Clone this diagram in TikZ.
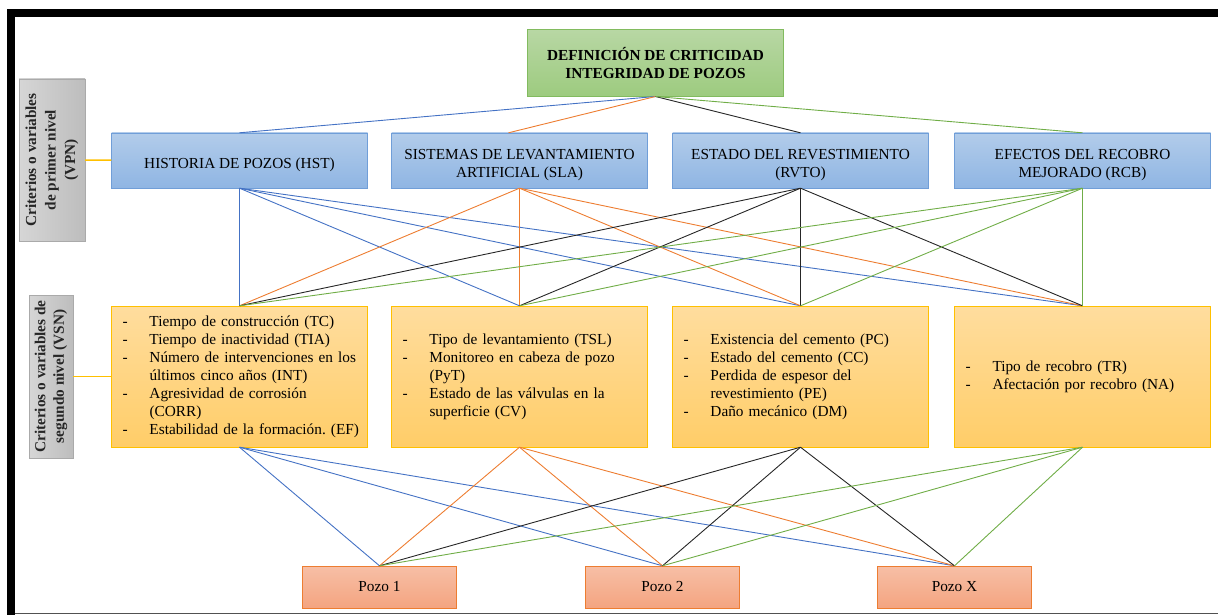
\documentclass[tikz,border=0pt]{standalone}
\usepackage{fontspec}
\setmainfont{Liberation Serif}
\definecolor{lazul}{RGB}{68,114,196}
\definecolor{lnar}{RGB}{237,125,49}
\definecolor{lneg}{RGB}{38,38,38}
\definecolor{lver}{RGB}{112,173,71}
\definecolor{azul1}{RGB}{178,204,234}
\definecolor{azul2}{RGB}{143,181,227}
\definecolor{azulb}{RGB}{112,158,216}
\definecolor{ver1}{RGB}{184,215,164}
\definecolor{ver2}{RGB}{157,203,127}
\definecolor{verb}{RGB}{130,187,95}
\definecolor{ama1}{RGB}{255,221,158}
\definecolor{ama2}{RGB}{255,205,104}
\definecolor{amab}{RGB}{255,192,0}
\definecolor{sal1}{RGB}{247,191,166}
\definecolor{sal2}{RGB}{244,164,128}
\definecolor{salb}{RGB}{237,125,49}
\definecolor{gris1}{RGB}{214,214,214}
\definecolor{gris2}{RGB}{189,189,189}
\definecolor{grisb}{RGB}{170,170,170}
\newcommand{\kli}[1]{\makebox[27pt][l]{-}\mbox{#1}}
\newcommand{\kls}[1]{\hspace*{27pt}\mbox{#1}}
\newcommand{\kbaja}[2]{\raisebox{#1}[\height][\depth]{\begin{tabular}{@{}c@{}}#2\end{tabular}}}
\begin{document}
\begin{tikzpicture}[x=1pt,y=-1pt,font=\fontsize{15.3}{18}\selectfont,
raiz/.style={draw=verb,top color=ver1,bottom color=ver2,minimum width=256pt,minimum height=67pt,align=center,font=\fontsize{15.3}{18}\selectfont\bfseries},
vpn/.style={draw=azulb,top color=azul1,bottom color=azul2,minimum width=256pt,minimum height=55pt,inner sep=0pt},
vsn/.style={draw=amab,top color=ama1,bottom color=ama2,minimum height=141pt,text width=234pt,inner xsep=11pt,inner ysep=0pt,align=left},
pozo/.style={draw=salb,top color=sal1,bottom color=sal2,minimum width=154pt,minimum height=42pt},
etq/.style={draw=grisb,top color=gris1,bottom color=gris2,shading angle=90,rotate=90,inner sep=0pt,align=center,text=lneg},
enlace/.style={line width=0.9pt},
guia/.style={draw=amab,line width=1.6pt}]
\useasboundingbox(0,0)rectangle(1218,615);
\draw[line width=8pt](11,615)--(11,13.3)--(1218,13.3);
\draw[line width=1.5pt,lneg!80](15,613.3)--(1218,613.3);
\node[raiz](def)at(655.5,62.8){DEFINICIÓN DE CRITICIDAD\\INTEGRIDAD DE POZOS};
\foreach \n/\x/\t in {1/239.5/{HISTORIA DE POZOS (HST)},2/519.5/{SISTEMAS DE LEVANTAMIENTO\\ARTIFICIAL (SLA)},3/800.5/{ESTADO DEL REVESTIMIENTO\\(RVTO)},4/1082.5/{EFECTOS DEL RECOBRO\\MEJORADO (RCB)}}{\node[vpn](vpn\n)at(\x,160.5){\kbaja{-4pt}{\t}};}
\node[vsn](vsn1)at(239.5,376.5){\kli{Tiempo de construcción (TC)}\\\kli{Tiempo de inactividad (TIA)}\\\kli{Número de intervenciones en los}\\\kls{últimos cinco años (INT)}\\\kli{Agresividad de corrosión}\\\kls{(CORR)}\\\kli{Estabilidad de la formación.\ (EF)}};
\node[vsn](vsn2)at(519.5,376.5){\kli{Tipo de levantamiento (TSL)}\\\kli{Monitoreo en cabeza de pozo}\\\kls{(PyT)}\\\kli{Estado de las válvulas en la}\\\kls{superficie (CV)}};
\node[vsn](vsn3)at(800.5,376.5){\kli{Existencia del cemento (PC)}\\\kli{Estado del cemento (CC)}\\\kli{Perdida de espesor del}\\\kls{revestimiento (PE)}\\\kli{Daño mecánico (DM)}};
\node[vsn](vsn4)at(1082.5,376.5){\kli{Tipo de recobro (TR)}\\\kli{Afectación por recobro (NA)}};
\foreach \n/\x/\t in {1/379.5/Pozo 1,2/662.5/Pozo 2,3/954.5/Pozo X}{\node[pozo](pz\n)at(\x,587){\t};}
\node[etq,minimum width=162pt,minimum height=66pt,font=\fontsize{15.3}{19.5}\selectfont\bfseries](etq1)at(52,160){Criterios o variables\\de primer nivel\\(VPN)};
\node[etq,minimum width=163pt,minimum height=44pt,font=\fontsize{15.3}{18.3}\selectfont\bfseries](etq2)at(51,376.5){Criterios o variables de\\segundo nivel (VSN)};
\draw[guia](etq1)--(vpn1);
\draw[guia](etq2)--(vsn1);
\foreach \i/\c/\s in {1/lazul/0,2/lnar/-11,3/lneg/0,4/lver/0}{
\draw[enlace,\c](def.south)--([xshift=\s pt]vpn\i.north);
\foreach \j in {1,...,4}{\draw[enlace,\c](vpn\i.south)--(vsn\j.north);}
\foreach \j in {1,2,3}{\draw[enlace,\c](vsn\i.south)--(pz\j.north);}
}
\end{tikzpicture}
\end{document}
